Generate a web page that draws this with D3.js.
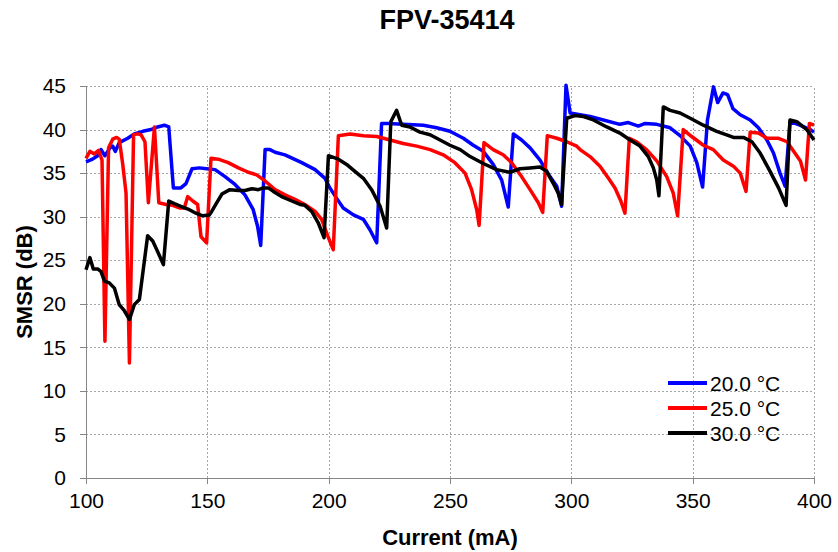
<!DOCTYPE html>
<html>
<head>
<meta charset="utf-8">
<script src="https://cdn.jsdelivr.net/npm/d3@7"></script>
<style>
  body { margin: 0; background: #fff; }
  svg { font-family: "Liberation Sans", Arial, sans-serif; }
  .grid line { stroke: #a6a6a6; stroke-dasharray: 2,2; shape-rendering: crispEdges; }
  .grid .domain { display: none; }
  .axis .domain, .axis line { stroke: #868686; shape-rendering: crispEdges; }
  .axis text { font-size: 21px; fill: #000; }
  .axis-title { font-size: 22px; font-weight: bold; }
  .legend text { font-size: 21px; }
</style>
</head>
<body>
<svg id="chart"></svg>
<script>
const chartTitle = 'FPV-35414';
const seriesLabels = ['20.0 °C', '25.0 °C', '30.0 °C'];
const seriesColors = ['#0000ff', '#ff0000', '#000000'];
const xTicks = [100, 150, 200, 250, 300, 350, 400];
const yTicks = [0, 5, 10, 15, 20, 25, 30, 35, 40, 45];

// 20.0 °C
const current20 = [100, 102.7, 104.8, 106.2, 107.8, 109.9, 111, 112.1, 113.7, 117.2, 119.9, 123.4, 126.8, 129.5, 132.3, 134.1,
  136, 139.1, 141.2, 143.7, 146.7, 149.7, 153.2, 157.3, 161.4, 165.5, 168.9, 170.7, 172, 173.8, 175.8, 177.9, 182, 188.9,
  194.4, 198.5, 200.5, 203.3, 206, 210.2, 214.3, 217, 219.8, 221.8, 224.6, 230.7, 239, 244.5, 250, 255.5, 259.6, 263.7,
  267.8, 271.3, 274, 276.1, 279.5, 283, 287.1, 291.2, 294, 296, 297.8, 299.5, 303.6, 307.7, 313.2, 320, 323.5, 327.6,
  330.4, 335.2, 340.7, 344.8, 349, 351.7, 354.1, 356.1, 358.6, 360.3, 362.5, 364.4, 366.6, 369.6, 373.7, 377.1, 380.6,
  383.3, 386, 388.1, 390.1, 394.2, 398.4, 400];
const smsr20 = [36.3, 36.6, 37.0, 37.7, 37.0, 37.9, 38.1, 37.5, 38.5, 39.0, 39.5, 39.8, 40.0, 40.3, 40.5, 40.3,
  33.3, 33.3, 33.8, 35.5, 35.6, 35.5, 35.4, 34.6, 33.7, 32.5, 30.8, 28.9, 26.7, 37.7, 37.7, 37.4, 37.1, 36.2,
  35.4, 34.4, 33.3, 32.1, 31.0, 30.2, 29.7, 28.5, 27.0, 40.7, 40.7, 40.6, 40.5, 40.2, 39.8, 39.0, 38.2, 37.5,
  36.0, 34.2, 31.1, 39.5, 38.8, 37.9, 36.5, 34.6, 33.5, 31.2, 45.1, 41.9, 41.7, 41.5, 41.1, 40.6, 40.8, 40.4,
  40.7, 40.6, 40.2, 39.3, 38.1, 36.2, 33.4, 41.1, 44.9, 43.1, 44.2, 44.0, 42.4, 41.7, 41.1, 40.2, 38.8,
  37.3, 35.0, 33.5, 40.9, 40.5, 40.0, 39.7];

// 25.0 °C
const current25 = [100, 101.6, 103.4, 105.2, 106.6, 107.8, 109.3, 111, 112.6, 113.7, 115.1, 116.5, 117.9, 119.6, 121.3,
  122.7, 124.3, 125.7, 128.2, 130, 133, 135.7, 138.5, 140.5, 141.9, 144, 146, 147.4, 149.7, 151.5, 154.5, 158.6, 162.8,
  166.9, 170.3, 173.8, 177.9, 182, 186.1, 190.2, 194.4, 197.1, 199.6, 201.9, 204, 208.8, 214.3, 219.8, 225.3, 230.7,
  236.3, 241.8, 247.2, 252, 256.2, 258.9, 261, 262, 264, 267.8, 271.9, 275.4, 279.5, 283, 286.4, 288.2, 290.1, 294,
  298.1, 302.2, 303.6, 307.7, 311.8, 315.3, 318, 320.4, 322.1, 323.9, 326.9, 331, 335.2, 339.3, 342, 343.8, 346.1,
  349.6, 354.4, 358.5, 362.6, 366.8, 369.6, 372, 373.7, 377.1, 380.6, 385.4, 388.9, 391.6, 394.4, 396.5, 398.1, 400];
const smsr25 = [36.7, 37.5, 37.2, 37.6, 36.5, 15.7, 37.9, 38.9, 39.1, 38.9, 36.1, 32.7, 13.2, 39.4, 39.5,
  39.4, 38.6, 31.6, 40.3, 31.6, 31.4, 31.3, 31.0, 31.0, 32.3, 31.8, 31.4, 27.7, 27.0, 36.7, 36.6, 36.2, 35.6,
  35.1, 34.8, 34.1, 33.1, 32.5, 32.0, 31.4, 30.6, 29.7, 27.8, 26.2, 39.3, 39.5, 39.3, 39.2, 38.8, 38.4,
  38.1, 37.7, 37.1, 36.2, 35.0, 33.1, 30.8, 29.0, 38.5, 37.7, 37.1, 36.2, 34.6, 33.1, 31.6, 30.5, 39.3, 39.0,
  38.6, 38.1, 37.7, 36.9, 35.8, 34.4, 33.3, 31.8, 30.4, 39.0, 38.6, 37.7, 36.4, 34.6, 32.7, 30.1, 40.0,
  39.2, 38.2, 37.7, 36.5, 35.8, 35.0, 32.9, 39.7, 39.6, 39.0, 39.0, 38.6, 37.5, 36.4, 34.2, 40.7, 40.5];

// 30.0 °C
const current30 = [100, 101.6, 103, 104.8, 106.2, 107.6, 109.6, 111.7, 113.7, 115.8, 117.9, 119.9, 122, 125.4, 127.5,
  129.5, 131.9, 134.1, 136.4, 139.8, 142.6, 145.3, 148.1, 150.8, 151.8, 153.9, 156, 159.3, 162.8, 165.5, 168.3, 171,
  173.1, 175.1, 177.2, 180.6, 184.8, 188.2, 190.2, 193, 195.7, 198.1, 199.9, 204, 207.4, 210.8, 214.3, 217.7, 221.2,
  223.9, 225.6, 228, 230.1, 233.5, 237.6, 241.8, 245.9, 250, 254.2, 258.3, 263.7, 269.2, 274.7, 278.8, 283, 287.1,
  289.8, 292.6, 294.6, 296, 298.1, 301.5, 305, 309.1, 314.6, 320, 324.2, 328.3, 331.7, 333.8, 335.2, 336.1, 337.9,
  340.7, 344.8, 349, 354.4, 359.9, 364, 366.8, 370.9, 374.4, 377.8, 381.9, 385.4, 388.5, 390.1, 392.9, 397, 400];
const smsr30 = [23.9, 25.3, 24.0, 24.0, 23.7, 22.6, 22.4, 21.8, 19.9, 19.2, 18.2, 19.9, 20.5, 27.8, 27.2,
  26.0, 24.5, 31.8, 31.5, 31.1, 30.8, 30.4, 30.1, 30.2, 30.6, 31.6, 32.6, 33.1, 33.0, 33.0, 33.2, 33.1,
  33.3, 33.3, 32.9, 32.3, 31.8, 31.4, 31.3, 30.6, 29.3, 27.6, 37.0, 36.6, 36.0, 35.2, 34.4, 33.1, 31.2,
  28.7, 40.9, 42.2, 40.5, 40.3, 39.7, 39.4, 38.8, 38.2, 37.7, 36.9, 36.1, 35.4, 35.1, 35.5, 35.6, 35.7,
  35.2, 33.8, 32.7, 31.4, 41.3, 41.6, 41.5, 41.1, 40.3, 39.6, 38.8, 38.1, 36.9, 35.6, 34.2, 32.4, 42.6,
  42.2, 41.9, 41.3, 40.5, 39.8, 39.4, 39.1, 39.1, 38.6, 37.3, 35.2, 33.3, 31.3, 41.1, 40.9, 40.0, 38.8];

class SmsrChart {

  constructor(_config) {
    this.config = {
      parentElement: _config.parentElement,
      containerWidth: 838,
      containerHeight: 552,
      margin: {top: 86, right: 24, bottom: 74, left: 86}
    };
    this.initVis();
  }

  initVis() {
    let vis = this;

    vis.width = vis.config.containerWidth - vis.config.margin.left - vis.config.margin.right;
    vis.height = vis.config.containerHeight - vis.config.margin.top - vis.config.margin.bottom;

    vis.xScale = d3.scaleLinear().domain([100, 400]).range([0, vis.width]);
    vis.yScale = d3.scaleLinear().domain([0, 45]).range([vis.height, 0]);

    vis.svg = d3.select(vis.config.parentElement)
        .attr('width', vis.config.containerWidth)
        .attr('height', vis.config.containerHeight);

    vis.chart = vis.svg.append('g')
        .attr('transform', `translate(${vis.config.margin.left},${vis.config.margin.top})`);

    // dotted gridlines
    vis.chart.append('g')
        .attr('class', 'grid')
        .call(d3.axisLeft(vis.yScale).tickValues(yTicks.slice(1)).tickSize(-vis.width).tickFormat(''));
    vis.chart.append('g')
        .attr('class', 'grid')
        .attr('transform', `translate(0,${vis.height})`)
        .call(d3.axisBottom(vis.xScale).tickValues(xTicks.slice(1)).tickSize(-vis.height).tickFormat(''));

    vis.xAxisG = vis.chart.append('g')
        .attr('class', 'axis x-axis')
        .attr('transform', `translate(0,${vis.height})`);
    vis.yAxisG = vis.chart.append('g')
        .attr('class', 'axis y-axis');

    vis.svg.append('text')
        .attr('x', 447)
        .attr('y', 29)
        .attr('text-anchor', 'middle')
        .style('font-size', '27px')
        .style('font-weight', 'bold')
        .text(chartTitle);

    vis.svg.append('text')
        .attr('class', 'axis-title')
        .attr('x', vis.config.margin.left + vis.width / 2)
        .attr('y', 545)
        .attr('text-anchor', 'middle')
        .text('Current (mA)');

    vis.svg.append('text')
        .attr('class', 'axis-title')
        .attr('transform', `translate(32,${vis.config.margin.top + vis.height / 2}) rotate(-90)`)
        .attr('text-anchor', 'middle')
        .text('SMSR (dB)');

    vis.updateVis();
  }

  updateVis() {
    let vis = this;

    const currents = [current20, current25, current30];
    const smsrs = [smsr20, smsr25, smsr30];
    vis.series = seriesLabels.map((label, i) => ({
      label: label,
      color: seriesColors[i],
      values: currents[i].map((c, j) => ({current: c, smsr: smsrs[i][j]}))
    }));

    vis.line = d3.line()
        .x(d => vis.xScale(d.current))
        .y(d => vis.yScale(d.smsr));

    vis.renderVis();
  }

  renderVis() {
    let vis = this;

    vis.chart.selectAll('.series')
        .data(vis.series)
      .join('path')
        .attr('class', 'series')
        .attr('fill', 'none')
        .attr('stroke', d => d.color)
        .attr('stroke-width', 3.5)
        .attr('stroke-linejoin', 'round')
        .attr('d', d => vis.line(d.values));

    vis.xAxisG.call(d3.axisBottom(vis.xScale).tickValues(xTicks).tickSizeOuter(0).tickSize(6).tickPadding(9));
    vis.yAxisG.call(d3.axisLeft(vis.yScale).tickValues(yTicks).tickSizeOuter(0).tickSize(6).tickPadding(14));

    // legend
    const legend = vis.svg.append('g')
        .attr('class', 'legend')
        .attr('transform', 'translate(668,383)');
    const rows = legend.selectAll('g')
        .data(vis.series)
      .join('g')
        .attr('transform', (d, i) => `translate(0,${i * 25})`);
    rows.append('line')
        .attr('x1', 0).attr('x2', 39)
        .attr('stroke', d => d.color)
        .attr('stroke-width', 4);
    rows.append('text')
        .attr('x', 42)
        .attr('y', 8)
        .text(d => d.label);
  }
}

new SmsrChart({parentElement: '#chart'});
</script>
</body>
</html>
